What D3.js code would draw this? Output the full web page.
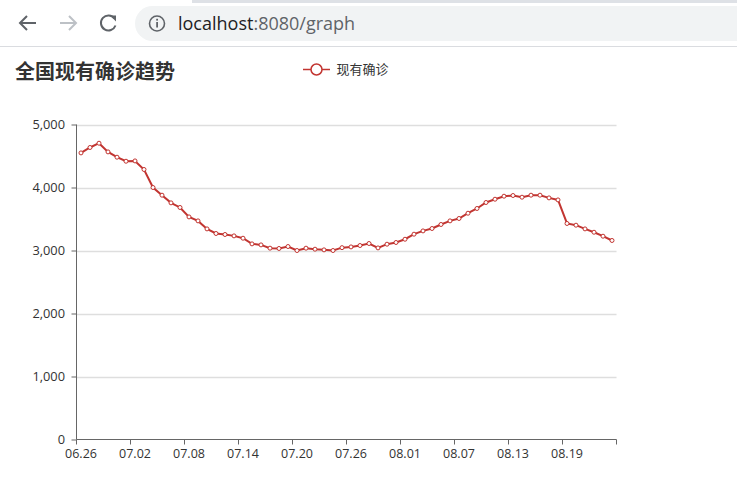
<!DOCTYPE html>
<html>
<head>
<meta charset="utf-8">
<script src="https://cdn.jsdelivr.net/npm/d3@7"></script>
<style>
  html, body { margin: 0; padding: 0; background: #fff; overflow: hidden; }
  svg { display: block; }
</style>
</head>
<body>
<svg id="page" width="737" height="501"></svg>
<script>
// ---------- data ----------
const title = "全国现有确诊趋势";
const seriesName = "现有确诊";
const url1 = "localhost";
const url2 = ":8080/graph";
const dates = [
  "06.26","06.27","06.28","06.29","06.30",
  "07.01","07.02","07.03","07.04","07.05","07.06","07.07","07.08","07.09","07.10",
  "07.11","07.12","07.13","07.14","07.15","07.16","07.17","07.18","07.19","07.20",
  "07.21","07.22","07.23","07.24","07.25","07.26","07.27","07.28","07.29","07.30","07.31",
  "08.01","08.02","08.03","08.04","08.05","08.06","08.07","08.08","08.09","08.10",
  "08.11","08.12","08.13","08.14","08.15","08.16","08.17","08.18","08.19","08.20",
  "08.21","08.22","08.23","08.24"
];
const values = [
  4549,4635,4703,4565,4481,4417,4422,4286,4000,3878,
  3756,3683,3533,3470,3343,3270,3254,3232,3195,3105,
  3089,3037,3032,3063,3000,3037,3021,3010,3000,3045,
  3057,3079,3111,3041,3100,3127,3179,3259,3311,3349,
  3413,3470,3508,3592,3667,3762,3814,3862,3873,3846,
  3878,3878,3835,3803,3429,3402,3343,3290,3227,3159
];
const yTicks = [0, 1000, 2000, 3000, 4000, 5000];
const xLabelEvery = 6;

// ---------- browser chrome ----------
const svg = d3.select("#page");
const chrome = svg.append("g");
chrome.append("rect").attr("x", 0).attr("y", 0).attr("width", 737).attr("height", 47).attr("fill", "#ffffff");
chrome.append("rect").attr("x", 192).attr("y", 0).attr("width", 545).attr("height", 3).attr("fill", "#dee1e6");
chrome.append("line").attr("x1", 0).attr("x2", 737).attr("y1", 46.5).attr("y2", 46.5).attr("stroke", "#dadce0");
// back
chrome.append("path").attr("d", "M36,23H20M27,16L20,23L27,30")
  .attr("fill", "none").attr("stroke", "#5f6368").attr("stroke-width", 2);
// forward
chrome.append("path").attr("d", "M60,23H76M69,16L76,23L69,30")
  .attr("fill", "none").attr("stroke", "#bdc1c6").attr("stroke-width", 2);
// reload
chrome.append("path").attr("d", "M114.5,18.5A7.5,7.5 0 1 0 115.5,25.5")
  .attr("fill", "none").attr("stroke", "#5f6368").attr("stroke-width", 2);
chrome.append("path").attr("d", "M110,15.5H116V21.5Z").attr("fill", "#5f6368");
// omnibox
chrome.append("rect").attr("x", 135).attr("y", 6).attr("width", 640).attr("height", 35)
  .attr("rx", 17.5).attr("fill", "#f1f3f4");
chrome.append("circle").attr("cx", 157).attr("cy", 23.5).attr("r", 7.5)
  .attr("fill", "none").attr("stroke", "#5f6368").attr("stroke-width", 1.6);
chrome.append("rect").attr("x", 156.2).attr("y", 22).attr("width", 1.8).attr("height", 5.5).attr("fill", "#5f6368");
chrome.append("rect").attr("x", 156.2).attr("y", 18.8).attr("width", 1.8).attr("height", 1.8).attr("fill", "#5f6368");
const urlText = chrome.append("text").attr("x", 178).attr("y", 30)
  .attr("font-family", "'Open Sans', 'Noto Sans', sans-serif").attr("font-size", 18);
urlText.append("tspan").attr("fill", "#202124").text(url1);
urlText.append("tspan").attr("fill", "#5f6368").text(url2);

// ---------- chart ----------
const font = "'Noto Sans CJK SC', 'Noto Sans', sans-serif";
const numFont = "'Open Sans', 'Noto Sans', sans-serif";
const color = "#c23531";
const pLeft = 76.5, pRight = 616.5, pTop = 124.5, pBottom = 439.5;

const x = d3.scaleBand().domain(dates).range([pLeft, pRight]).paddingInner(0).paddingOuter(0);
const y = d3.scaleLinear().domain([0, 5000]).range([pBottom, pTop]);

const chart = svg.append("g");

// title
chart.append("text").attr("x", 15).attr("y", 78.5)
  .attr("font-family", font).attr("font-size", 20).attr("font-weight", "bold")
  .attr("fill", "#333").text(title);

// legend
const lg = chart.append("g");
lg.append("line").attr("x1", 303).attr("x2", 330).attr("y1", 69.5).attr("y2", 69.5)
  .attr("stroke", color).attr("stroke-width", 1.5);
lg.append("circle").attr("cx", 316.5).attr("cy", 69.5).attr("r", 5.5)
  .attr("fill", "#fff").attr("stroke", color).attr("stroke-width", 1.5);
lg.append("text").attr("x", 336.5).attr("y", 73.5)
  .attr("font-family", font).attr("font-size", 13).attr("fill", "#333").text(seriesName);

// grid lines
chart.append("g").selectAll("line").data(yTicks.filter(d => d > 0)).join("line")
  .attr("x1", pLeft).attr("x2", pRight)
  .attr("y1", d => Math.round(y(d)) + 0.5).attr("y2", d => Math.round(y(d)) + 0.5)
  .attr("stroke", "#dedede").attr("stroke-width", 1.5);

// y axis
const yAxis = chart.append("g").attr("transform", `translate(${pLeft},0)`)
  .call(d3.axisLeft(y).tickValues(yTicks).tickFormat(d3.format(",")).tickSize(5).tickPadding(6.5));
yAxis.select(".domain").attr("stroke", "#666").attr("d", `M0,${pTop}V${pBottom}`);
yAxis.selectAll(".tick line").attr("stroke", "#666");
yAxis.selectAll(".tick text").attr("font-family", numFont).attr("font-size", 12.8).attr("fill", "#333");

// x axis: ticks on band boundaries every 6 categories, plus the end
const tickIdx = dates.map((d, i) => i).filter(i => i % xLabelEvery === 0);
const xAxisG = chart.append("g").attr("transform", `translate(0,${pBottom})`);
xAxisG.append("path").attr("d", `M${pLeft},0H${pRight}`).attr("stroke", "#666").attr("fill", "none");
const tickPos = tickIdx.map(i => x(dates[i])).concat([pRight]);
xAxisG.selectAll("line.tk").data(tickPos).join("line").attr("class", "tk")
  .attr("x1", d => Math.round(d - 0.5) + 0.5).attr("x2", d => Math.round(d - 0.5) + 0.5)
  .attr("y1", 0).attr("y2", 5).attr("stroke", "#666");
xAxisG.selectAll("text.lb").data(tickIdx).join("text").attr("class", "lb")
  .attr("x", i => x(dates[i]) + x.bandwidth() / 2).attr("y", 18)
  .attr("text-anchor", "middle").attr("font-family", numFont).attr("font-size", 12.5)
  .attr("fill", "#333").text(i => dates[i]);

// line
const px = (d, i) => x(dates[i]) + x.bandwidth() / 2;
chart.append("path").datum(values)
  .attr("d", d3.line().x(px).y(d => y(d)))
  .attr("fill", "none").attr("stroke", color).attr("stroke-width", 2);
chart.append("g").selectAll("circle").data(values).join("circle")
  .attr("cx", px).attr("cy", d => y(d)).attr("r", 2)
  .attr("fill", "#fff").attr("stroke", color).attr("stroke-width", 1);
</script>
</body>
</html>
